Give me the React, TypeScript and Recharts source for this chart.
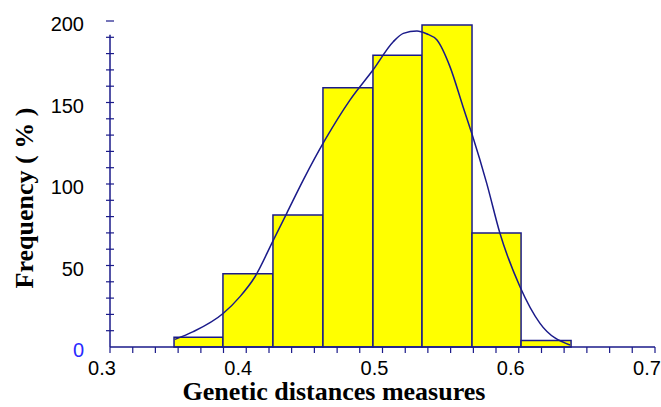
import React from 'react';
import {
  ComposedChart,
  Line,
  XAxis,
  YAxis,
  ReferenceArea,
  ReferenceLine,
} from 'recharts';

// histogram bins (genetic distance) and their frequencies
const binStart = [0.347, 0.3829, 0.4196, 0.4563, 0.493, 0.529, 0.5657, 0.6017];
const binEnd = [0.3829, 0.4196, 0.4563, 0.493, 0.529, 0.5657, 0.6017, 0.6384];
const frequency = [6, 45, 81, 159, 179, 197.5, 70, 4];

// fitted density curve
const curveX = [
  0.3477, 0.3611, 0.3832, 0.3954, 0.4064, 0.4199, 0.4297, 0.4419, 0.4578, 0.4761,
  0.493, 0.5079, 0.5153, 0.5253, 0.5323, 0.54, 0.5495, 0.5591, 0.5655, 0.5765,
  0.5862, 0.6009, 0.6156, 0.6376,
];
const curveY = [
  4.7, 9.4, 20.7, 30.9, 43.1, 65.6, 82, 102.5, 127, 151.5,
  169.9, 187.3, 192.4, 193.9, 192.2, 188.3, 172, 147.4, 131.1, 100.4,
  69.8, 37, 14.5, 1.2,
];

const xTicks = [
  0.3, 0.3167, 0.3333, 0.35, 0.3667, 0.3833, 0.4, 0.4167, 0.4333, 0.45, 0.4667,
  0.4833, 0.5, 0.5167, 0.5333, 0.55, 0.5667, 0.5833, 0.6, 0.6167, 0.6333, 0.65,
  0.6667, 0.6833, 0.7,
];
const xLabels = [0.3, 0.4, 0.5, 0.6, 0.7];
const yTicks = [
  0, 10, 20, 30, 40, 50, 60, 70, 80, 90, 100, 110, 120, 130, 140, 150, 160, 170,
  180, 190, 200,
];
const yLabels = [0, 50, 100, 150, 200];

const NAVY = '#1a1a8a';
const SANS = '"Liberation Sans", Arial, Helvetica, sans-serif';
const SERIF = '"Liberation Serif", "Times New Roman", serif';

const data = curveX.map((x, i) => ({ x, curve: curveY[i] }));

const XTick = (props: any) => {
  const { x, y, payload } = props;
  const v = payload.value;
  const labelled = xLabels.some((l) => Math.abs(l - v) < 1e-6);
  return (
    <g>
      <line x1={x} y1={y} x2={x} y2={y + 6} stroke={NAVY} strokeWidth={1.2} />
      {labelled && (
        <text x={x - 8} y={y + 28} textAnchor="middle" fontSize={20} fontFamily={SANS} fill="#000">
          {v}
        </text>
      )}
    </g>
  );
};

const YTick = (props: any) => {
  const { x, y, payload } = props;
  const v = payload.value;
  const labelled = yLabels.includes(v);
  return (
    <g>
      {v !== 0 && <line x1={x - 4} y1={y} x2={x + 4} y2={y} stroke={NAVY} strokeWidth={1.2} />}
      {labelled && (
        <text
          x={x - 26}
          y={y + 10}
          textAnchor="end"
          fontSize={20}
          fontFamily={SANS}
          fill={v === 0 ? '#2a2aff' : '#000'}
        >
          {v}
        </text>
      )}
    </g>
  );
};

export default function App() {
  return (
    <div style={{ position: 'absolute', left: 0, top: 0, background: '#fff' }}>
      <ComposedChart
        width={661}
        height={407}
        data={data}
        margin={{ top: 21, right: 6, left: 0, bottom: 0 }}
      >
        <XAxis
          dataKey="x"
          type="number"
          domain={[0.3, 0.7]}
          ticks={xTicks}
          interval={0}
          height={60}
          tickSize={0}
          tickMargin={0}
          stroke={NAVY}
          strokeWidth={1.5}
          tick={<XTick />}
          label={{
            content: () => (
              <text x={334} y={400} textAnchor="middle" fontSize={26} fontWeight="bold" fontFamily={SERIF} fill="#000">
                Genetic distances measures
              </text>
            ),
          }}
        />
        <YAxis
          type="number"
          domain={[0, 200]}
          ticks={yTicks}
          interval={0}
          width={110}
          tickSize={0}
          tickMargin={0}
          axisLine={false}
          tick={<YTick />}
          label={{
            content: () => (
              <text
                x={33}
                y={198}
                transform="rotate(-90, 33, 198)"
                textAnchor="middle"
                fontSize={26}
                fontWeight="bold"
                fontFamily={SERIF}
                fill="#000"
              >
                Frequency ( % )
              </text>
            ),
          }}
        />
        <ReferenceLine
          segment={[{ x: 0.3, y: 0 }, { x: 0.3, y: 191.5 }]}
          stroke={NAVY}
          strokeWidth={1.5}
          ifOverflow="visible"
        />
        {frequency.map((f, i) => (
          <ReferenceArea
            key={i}
            x1={binStart[i]}
            x2={binEnd[i]}
            y1={0}
            y2={f}
            fill="#ffff00"
            fillOpacity={1}
            stroke={NAVY}
            strokeWidth={1.5}
            ifOverflow="visible"
          />
        ))}
        <Line
          dataKey="curve"
          type="monotone"
          stroke={NAVY}
          strokeWidth={1.5}
          dot={false}
          isAnimationActive={false}
        />
      </ComposedChart>
    </div>
  );
}
